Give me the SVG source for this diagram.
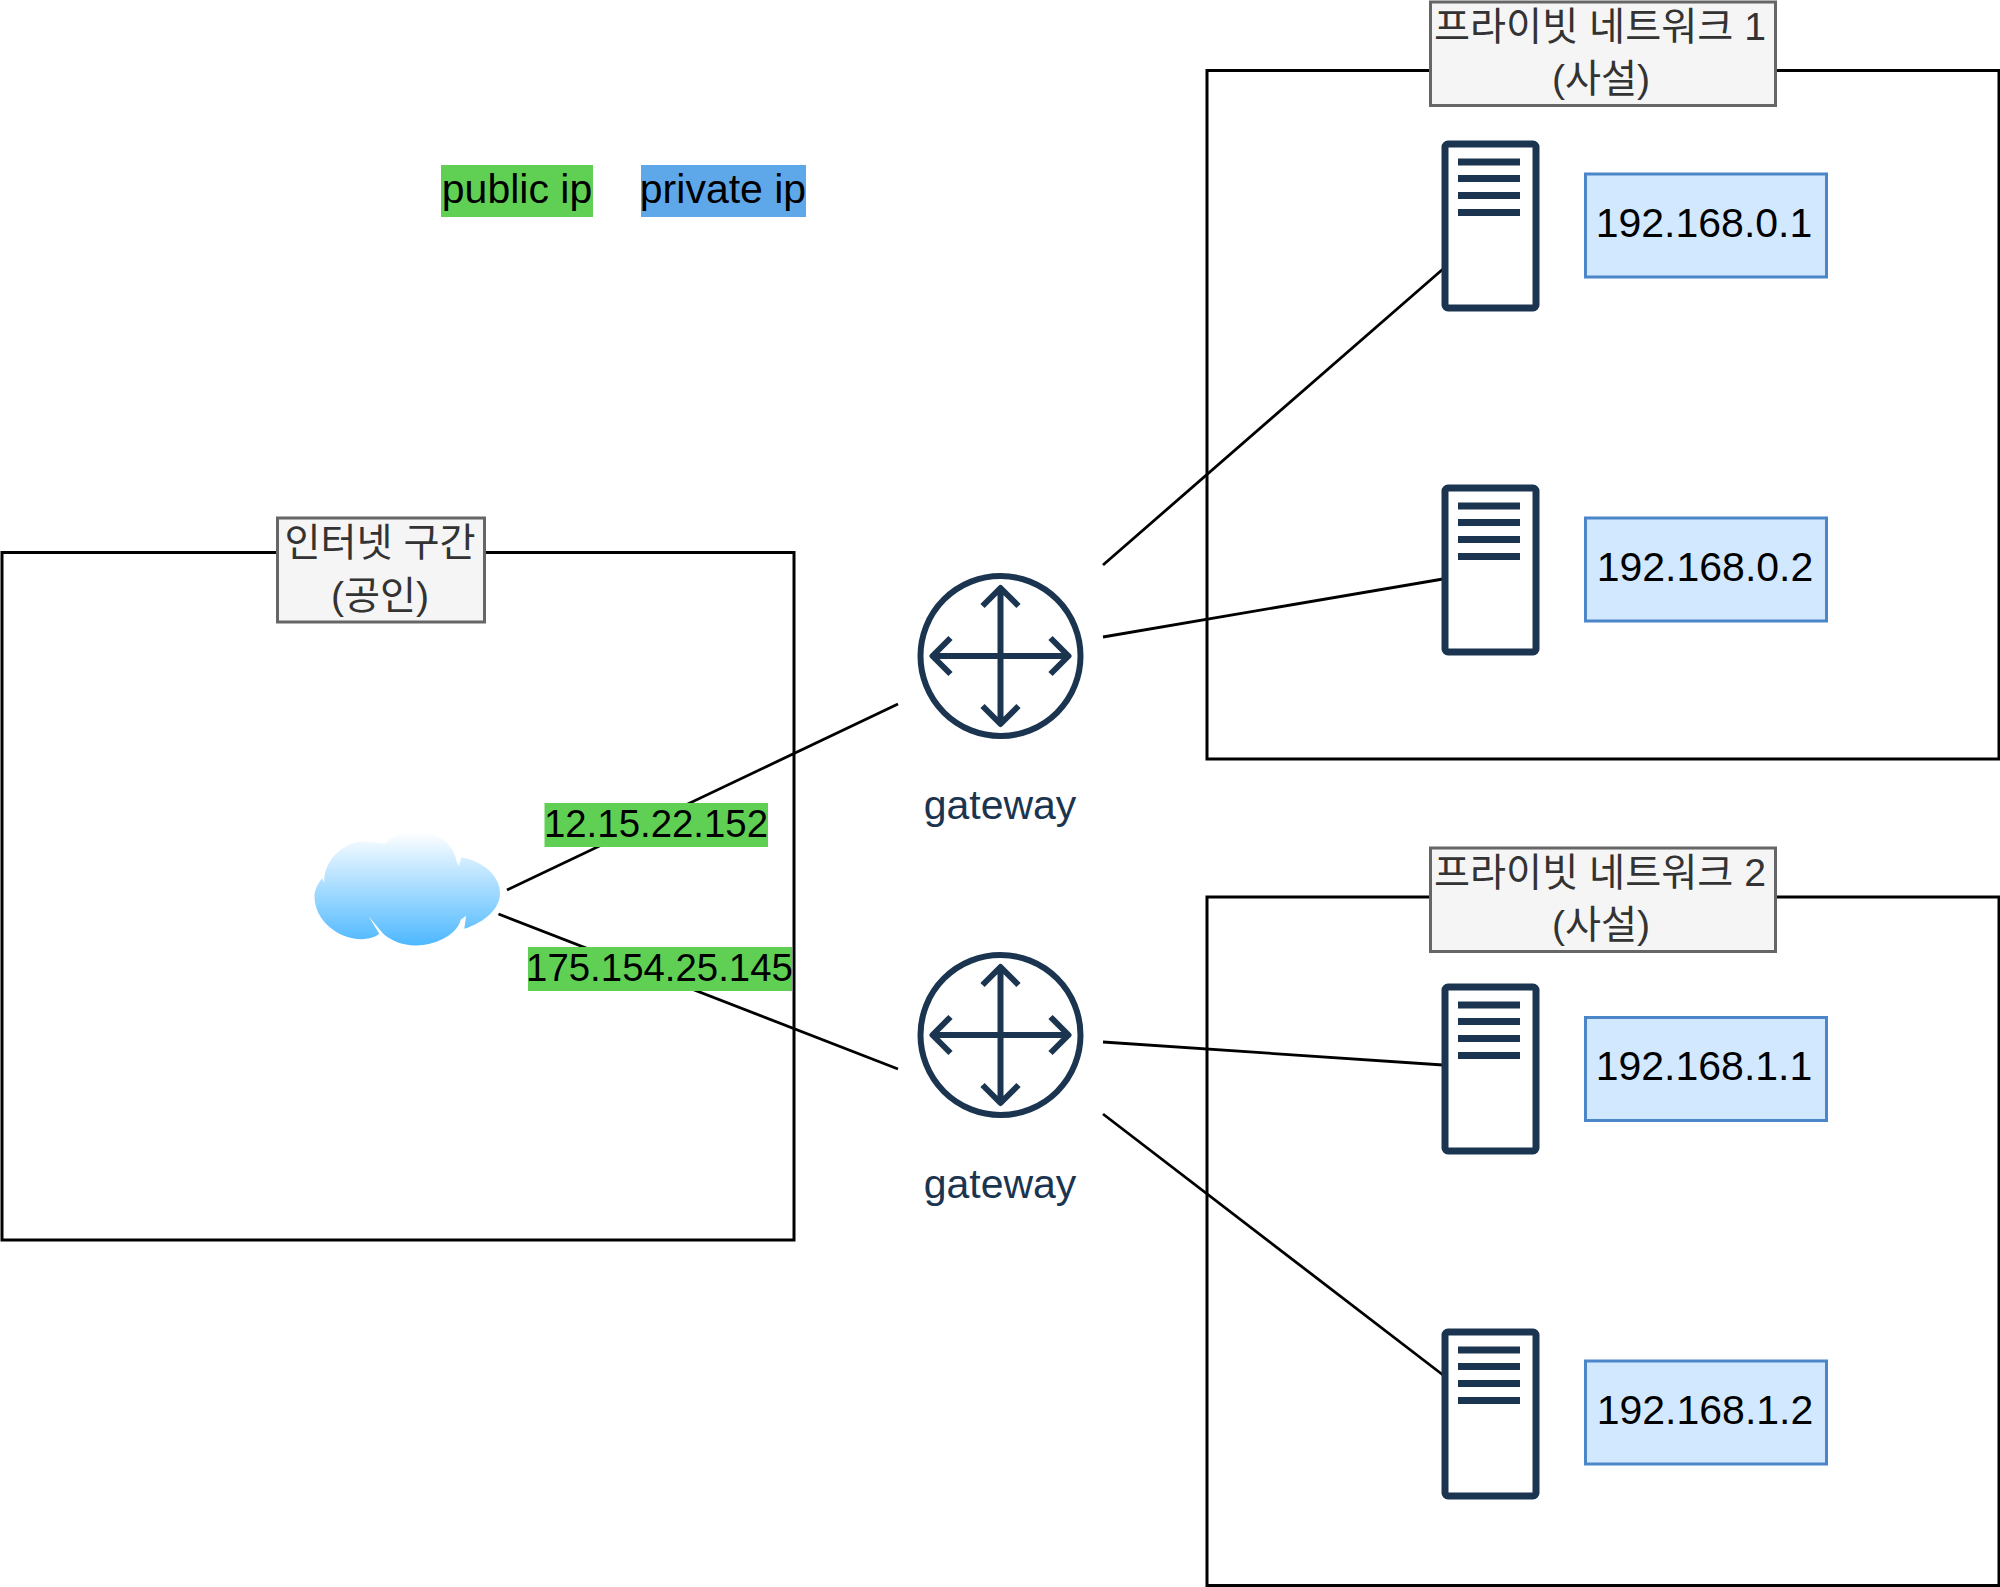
<svg xmlns="http://www.w3.org/2000/svg" xmlns:xlink="http://www.w3.org/1999/xlink" width="2000" height="1587" viewBox="0 0 2000 1587">
  <style>
    text { font-family: "Liberation Sans", "Noto Sans CJK KR", sans-serif; font-size: 41px; text-anchor: middle; }
    .zone { fill: #fff; stroke: #000; stroke-width: 3; }
    .title rect { fill: #f5f5f5; stroke: #666; stroke-width: 3; }
    .title text { fill: #333; font-size: 39.200px; }
    .ip rect { fill: #d2e8ff; stroke: #4a86c8; stroke-width: 3; }
    .ip text { fill: #000; }
    .addr text { font-size: 38.400px; }
    .green { fill: #60d055; }
    .blue { fill: #5ea8ea; }
    .dark { fill: none; stroke: #1b3550; stroke-linejoin: round; }
    .link { fill: none; stroke: #000; stroke-width: 2.800; }
    .gw { fill: #1b3550; }
  </style>
  <defs>
    <linearGradient id="sky" x1="0" y1="0" x2="0" y2="1">
      <stop offset="0" stop-color="#ffffff"/>
      <stop offset="1" stop-color="#4db8ff"/>
    </linearGradient>
    <g id="router">
      <circle class="dark" r="80" stroke-width="6"/>
      <path class="dark" stroke-width="6" d="M-66 0H66M0 -66V66M-50 -18L-68 0L-50 18M50 -18L68 0L50 18M-18 -50L0 -68L18 -50M-18 50L0 68L18 50"/>
    </g>
    <g id="server">
      <rect class="dark" x="3" y="3" width="91" height="164" rx="3" fill="#fff" stroke-width="7"/>
      <path class="dark" stroke-width="7" d="M16 21H78M16 37.500H78M16 54.500H78M16 71.500H78"/>
    </g>
  </defs>

  <g id="zone-internet"><rect class="zone" x="2" y="552.500" width="792" height="687.500"/></g>
  <g id="zone-private-1"><rect class="zone" x="1207" y="70.500" width="792" height="688.500"/></g>
  <g id="zone-private-2"><rect class="zone" x="1207" y="897" width="792" height="688.500"/></g>

  <g id="connectors">
    <path class="link" d="M507 890L898 704"/>
    <path class="link" d="M498.500 914L898 1069"/>
    <path class="link" d="M1103 565L1443 269"/>
    <path class="link" d="M1103 637L1443 579"/>
    <path class="link" d="M1103 1042L1443 1065"/>
    <path class="link" d="M1103 1114L1443 1375"/>
  </g>

  <g id="title-internet" class="title">
    <rect x="277.500" y="518" width="207" height="104"/>
    <text x="380" y="556">인터넷 구간</text>
    <text x="380" y="609">(공인)</text>
  </g>
  <g id="title-private-1" class="title">
    <rect x="1430.500" y="2" width="345" height="103.500"/>
    <text x="1600" y="40">프라이빗 네트워크 1</text>
    <text x="1601" y="92">(사설)</text>
  </g>
  <g id="title-private-2" class="title">
    <rect x="1430.500" y="848" width="345" height="103.500"/>
    <text x="1600" y="886">프라이빗 네트워크 2</text>
    <text x="1601" y="938">(사설)</text>
  </g>

  <g id="legend-public">
    <rect class="green" x="441" y="165" width="152" height="52"/>
    <text x="517" y="203">public ip</text>
  </g>
  <g id="legend-private">
    <rect class="blue" x="641" y="165" width="165" height="52"/>
    <text x="723" y="203">private ip</text>
  </g>

  <g id="cloud">
    <path fill="url(#sky)" transform="translate(262 780) scale(.35 .333)" d="M178 295C185 230 240 185 290 185C315 185 340 190 352 192C375 160 420 155 445 155C500 155 550 195 556 245L562 258L570 232C630 245 680 285 680 340C680 385 640 425 578 447L583 408L568 420C555 470 490 497 440 497C400 497 365 480 345 460L305 410L335 462C320 475 300 478 285 478C215 478 150 420 150 350C150 330 160 310 172 295L178 310Z"/>
  </g>

  <g id="ip-public-1" class="addr">
    <rect class="green" x="544.500" y="803" width="223.500" height="44"/>
    <text x="656" y="837">12.15.22.152</text>
  </g>
  <g id="ip-public-2" class="addr">
    <rect class="green" x="528" y="947" width="264" height="44"/>
    <text x="659.500" y="981">175.154.25.145</text>
  </g>

  <g id="gateway-1">
    <use xlink:href="#router" href="#router" x="1000.500" y="656"/>
    <text class="gw" x="1000" y="819">gateway</text>
  </g>
  <g id="gateway-2">
    <use xlink:href="#router" href="#router" x="1000.500" y="1035"/>
    <text class="gw" x="1000" y="1198">gateway</text>
  </g>

  <g id="server-1"><use xlink:href="#server" href="#server" x="1442" y="141"/></g>
  <g id="server-2"><use xlink:href="#server" href="#server" x="1442" y="485"/></g>
  <g id="server-3"><use xlink:href="#server" href="#server" x="1442" y="984"/></g>
  <g id="server-4"><use xlink:href="#server" href="#server" x="1442" y="1329"/></g>

  <g id="ip-1" class="ip"><rect x="1585.500" y="174" width="241" height="103"/><text x="1704" y="237">192.168.0.1</text></g>
  <g id="ip-2" class="ip"><rect x="1585.500" y="518" width="241" height="103"/><text x="1705" y="581">192.168.0.2</text></g>
  <g id="ip-3" class="ip"><rect x="1585.500" y="1017.500" width="241" height="103"/><text x="1704" y="1080">192.168.1.1</text></g>
  <g id="ip-4" class="ip"><rect x="1585.500" y="1361" width="241" height="103"/><text x="1705" y="1424">192.168.1.2</text></g>
</svg>
